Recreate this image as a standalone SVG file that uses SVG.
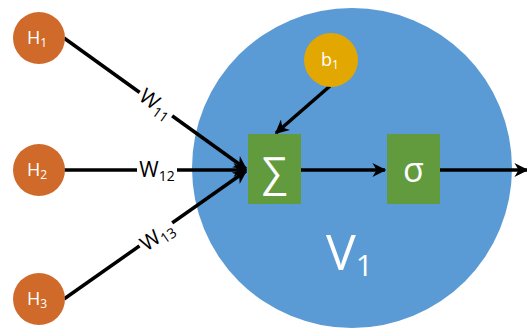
<svg xmlns="http://www.w3.org/2000/svg" width="527" height="329" viewBox="0 0 527 329">
<style>
.hn{fill:#CF6A2B}
.lbl{font-family:"Open Sans","Liberation Sans",sans-serif;fill:#fff}
.w{font-family:"Open Sans","Liberation Sans",sans-serif;fill:#000;font-size:21px}
.c{stroke:#000;stroke-width:3.5;fill:none}
.box{fill:#619B3E}
</style>
<defs>
<marker id="ah" viewBox="0 0 10 10" refX="9" refY="5" markerWidth="4" markerHeight="4" orient="auto" markerUnits="strokeWidth">
<path d="M0,0 L10,5 L0,10 L3,5 Z" fill="#000"/>
</marker>
</defs>
<rect width="527" height="329" fill="#fff"/>
<g id="v1">
<circle cx="352" cy="168" r="160" fill="#5B9BD5"/>
<text class="lbl" x="326" y="270" font-size="50">V<tspan font-size="30" dy="6">1</tspan></text>
</g>
<g id="connectors">
<line class="c" x1="64" y1="38" x2="246" y2="169" marker-end="url(#ah)"/>
<line class="c" x1="64" y1="170" x2="246" y2="170" marker-end="url(#ah)"/>
<line class="c" x1="64" y1="299" x2="246" y2="171" marker-end="url(#ah)"/>
<line class="c" x1="330" y1="86" x2="276" y2="133" stroke-width="3" marker-end="url(#ah)"/>
<line class="c" x1="301" y1="170" x2="385" y2="170" stroke-width="3" marker-end="url(#ah)"/>
<line class="c" x1="440" y1="170" x2="527" y2="170" stroke-width="3" marker-end="url(#ah)"/>
<g transform="translate(156,104) rotate(35.8)">
<rect x="-20" y="-12" width="40" height="24" fill="#fff"/>
<text class="w" x="0" y="7" text-anchor="middle">W<tspan font-size="14" dy="4">11</tspan></text>
</g>
<g transform="translate(157,170)">
<rect x="-20" y="-12" width="40" height="24" fill="#fff"/>
<text class="w" x="0" y="7" text-anchor="middle">W<tspan font-size="14" dy="4">12</tspan></text>
</g>
<g transform="translate(157,236) rotate(-35)">
<rect x="-20" y="-12" width="40" height="24" fill="#fff"/>
<text class="w" x="0" y="7" text-anchor="middle">W<tspan font-size="14" dy="4">13</tspan></text>
</g>
</g>
<g id="h1"><circle class="hn" cx="39" cy="38" r="26"/><text class="lbl" x="37" y="44" font-size="18" text-anchor="middle">H<tspan font-size="12" dy="3">1</tspan></text></g>
<g id="h2"><circle class="hn" cx="39" cy="170" r="26"/><text class="lbl" x="37" y="176" font-size="18" text-anchor="middle">H<tspan font-size="12" dy="3">2</tspan></text></g>
<g id="h3"><circle class="hn" cx="39" cy="299" r="26"/><text class="lbl" x="37" y="305" font-size="18" text-anchor="middle">H<tspan font-size="12" dy="3">3</tspan></text></g>
<g id="b1"><circle cx="331" cy="60" r="27" fill="#E2A700"/><text class="lbl" x="330" y="66" font-size="18" text-anchor="middle">b<tspan font-size="12" dy="3">1</tspan></text></g>
<g id="sum"><rect class="box" x="248" y="134" width="53" height="70"/><text class="lbl" x="274.5" y="186" font-size="40" text-anchor="middle">∑</text></g>
<g id="sigma"><rect class="box" x="387" y="134" width="53" height="70"/><text class="lbl" x="413.5" y="182" font-size="34" text-anchor="middle">σ</text></g>
</svg>
